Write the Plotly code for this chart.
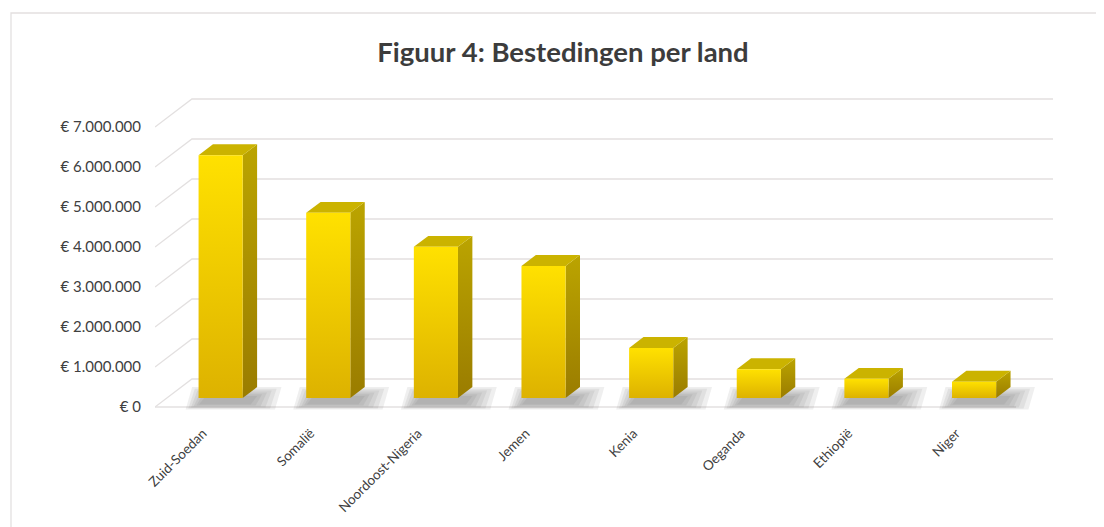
import plotly.graph_objects as go

# ---- data ----
categories = ["Zuid-Soedan", "Somalië", "Noordoost-Nigeria", "Jemen",
              "Kenia", "Oeganda", "Ethiopië", "Niger"]
spending = [6070000, 4630000, 3780000, 3300000, 1250000, 720000, 480000, 410000]
y_ticks = [0, 1000000, 2000000, 3000000, 4000000, 5000000, 6000000, 7000000]
title_text = "Figuur 4: Bestedingen per land"

# ---- geometry / style (pseudo-3D) ----
DXW = 0.343          # wall depth in category units
DYW = 700000         # wall depth expressed in value units
BAR_W = 0.41
D_FRONT, D_BACK = 0.32, 0.71
GRID = "#E3E0E0"
TXT = "#404040"
FONT = "Lato"
OFF = 8              # page body margin

n = len(categories)
x_lo, x_hi = -0.5, n - 0.5

fig = go.Figure()

# walls / gridlines
gx, gy = [], []
for v in y_ticks:
    gx += [x_lo, x_lo + DXW, x_hi + DXW, None]
    gy += [v, v + DYW, v + DYW, None]
gx += [x_lo, x_hi, None]
gy += [0, 0, None]
fig.add_trace(go.Scatter(x=gx, y=gy, mode="lines",
                         line=dict(color=GRID, width=1.3),
                         hoverinfo="skip"))

# soft shadows
for k in range(6):
    sx, sy = [], []
    for i in range(n):
        L = i - BAR_W / 2 + D_FRONT * DXW
        R = L + BAR_W
        x0 = L - 0.12 + 0.025 * k
        x1 = R + 0.30 - 0.045 * k
        y0 = -60000 + 25000 * k
        y1 = 500000 - 45000 * k
        sx += [x0, x1, x1 + 0.06, x0 + 0.06, x0, None]
        sy += [y0, y0, y1, y1, y0, None]
    fig.add_trace(go.Scatter(x=sx, y=sy, mode="lines", fill="toself",
                             fillcolor="rgba(95,95,95,0.10)",
                             line=dict(width=0), hoverinfo="skip"))

# bars
ofx, ofy = D_FRONT * DXW, D_FRONT * DYW
ddx, ddy = (D_BACK - D_FRONT) * DXW, (D_BACK - D_FRONT) * DYW
for i, v in enumerate(spending):
    L = i - BAR_W / 2 + ofx
    R = L + BAR_W
    yb, yt = ofy, v + ofy
    # side face
    fig.add_trace(go.Scatter(
        x=[R, R + ddx, R + ddx, R, R], y=[yb, yb + ddy, yt + ddy, yt, yb],
        mode="lines", fill="toself", line=dict(width=0),
        fillgradient=dict(type="vertical",
                          colorscale=[[0, "#9A7C00"], [1, "#BBA400"]]),
        hoverinfo="skip"))
    # top face
    fig.add_trace(go.Scatter(
        x=[L, R, R + ddx, L + ddx, L], y=[yt, yt, yt + ddy, yt + ddy, yt],
        mode="lines", fill="toself", line=dict(width=0),
        fillcolor="#CBB300", hoverinfo="skip"))
    # front face
    fig.add_trace(go.Scatter(
        x=[L, R, R, L, L], y=[yb, yb, yt, yt, yb],
        mode="lines", fill="toself", line=dict(width=0),
        fillgradient=dict(type="vertical",
                          colorscale=[[0, "#DDB200"], [1, "#FFE100"]]),
        name=categories[i], hovertemplate="%{text}<extra></extra>",
        text=[f"{categories[i]}: € {v:,}".replace(",", ".")] * 5))

# layout in figure pixels
W, H = 1104, 527
ml, mr, mt, mb = 155 - OFF, 1104 - (1053 - OFF), 95 - OFF, 527 - (419 - OFF)
pw, ph = W - ml - mr, H - mt - mb
def px_to_paper_x(p): return (p - OFF - ml) / pw
def px_to_paper_y(p): return (H - mb - (p - OFF)) / ph
fig.add_shape(type="rect", xref="paper", yref="paper",
              x0=px_to_paper_x(11), x1=px_to_paper_x(1125),
              y0=px_to_paper_y(545), y1=px_to_paper_y(13),
              line=dict(color="#E3E0E0", width=1.3), layer="below")

fig.update_layout(
    width=W, height=H,
    margin=dict(l=ml, r=mr, t=mt, b=mb),
    paper_bgcolor="white", plot_bgcolor="white",
    showlegend=False,
    title=dict(text=f"<b>{title_text}</b>", x=(563 - OFF) / W, xref="container",
               xanchor="center", y=1 - (52 - OFF) / H, yref="container",
               yanchor="middle",
               font=dict(family=FONT, size=27.5, color="#3C3C3C")),
    font=dict(family=FONT, color=TXT),
)
fig.update_xaxes(range=[x_lo, x_hi + DXW], tickvals=list(range(n)),
                 ticktext=categories, tickangle=-45, showgrid=False,
                 zeroline=False, showline=False, ticks="",
                 tickfont=dict(family=FONT, size=13.5, color=TXT),
                 ticklabelstandoff=3, ticklabelshift=-6)
fig.update_yaxes(range=[-300000, 7800000], tickvals=y_ticks,
                 ticktext=[f"€ {v:,}".replace(",", ".") for v in y_ticks],
                 showgrid=False, zeroline=False, showline=False, ticks="",
                 tickfont=dict(family=FONT, size=15, color=TXT),
                 ticklabelstandoff=13)

fig.write_html("out.html")
